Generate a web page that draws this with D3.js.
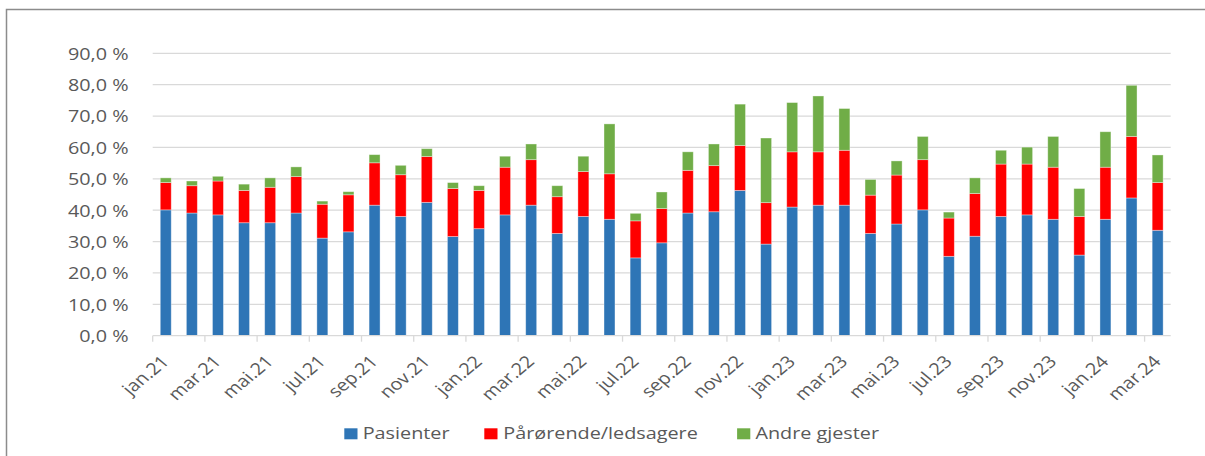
<!DOCTYPE html>
<html>
<head>
<meta charset="utf-8">
<script src="https://cdn.jsdelivr.net/npm/d3@7"></script>
<style>
  html, body { margin: 0; padding: 0; background: #fff; }
  svg { display: block; }
  text { font-family: "Open Sans", "Noto Sans", sans-serif; fill: #595959; }
</style>
</head>
<body>
<svg id="chart" width="1205" height="456"></svg>
<script>
// Months, Jan 2021 – Mar 2024
const months = [
  "jan.21","feb.21","mar.21","apr.21","mai.21","jun.21","jul.21","aug.21","sep.21","okt.21","nov.21","des.21",
  "jan.22","feb.22","mar.22","apr.22","mai.22","jun.22","jul.22","aug.22","sep.22","okt.22","nov.22","des.22",
  "jan.23","feb.23","mar.23","apr.23","mai.23","jun.23","jul.23","aug.23","sep.23","okt.23","nov.23","des.23",
  "jan.24","feb.24","mar.24"
];

// Share (%) per group
const pasienter = [
  40.1,39.1,38.5,36.0,36.0,39.1,31.1,33.1,41.6,38.0,42.5,31.6,
  34.1,38.5,41.6,32.6,38.0,37.1,24.8,29.6,39.1,39.5,46.3,29.2,
  41.0,41.6,41.6,32.6,35.6,40.1,25.3,31.7,38.0,38.5,37.1,25.7,
  37.1,43.9,33.6
];
const parorende = [
  8.7,8.7,10.8,10.3,11.3,11.6,10.8,11.8,13.5,13.3,14.6,15.3,
  12.2,15.2,14.5,11.7,14.3,14.5,11.8,10.9,13.6,14.7,14.3,13.2,
  17.6,17.0,17.5,12.2,15.6,16.0,12.2,13.6,16.7,16.2,16.6,12.3,
  16.6,19.6,15.2
];
const andre = [
  1.5,1.5,1.5,2.0,3.0,3.1,1.0,1.0,2.6,3.0,2.5,1.9,
  1.5,3.5,5.0,3.5,4.9,15.9,2.4,5.3,5.9,6.9,13.2,20.6,
  15.7,17.8,13.3,5.0,4.5,7.4,1.9,5.0,4.4,5.4,9.8,8.9,
  11.3,16.3,8.8
];

const seriesNames = ["Pasienter", "Pårørende/ledsagere", "Andre gjester"];
const seriesColors = ["#2E75B6", "#FF0000", "#70AD47"];
const yTicks = [0,10,20,30,40,50,60,70,80,90];

const rows = months.map((m, i) => ({
  month: m,
  "Pasienter": pasienter[i],
  "Pårørende/ledsagere": parorende[i],
  "Andre gjester": andre[i]
}));

// text is drawn slightly widened horizontally
const stretch = "scale(1.2,1)";
const fontSize = 16.5;

const svg = d3.select("#chart");

// outer frame (top and left edges)
svg.append("path")
  .attr("d", "M6.5,456 V9.5 H1205")
  .attr("fill", "none")
  .attr("stroke", "#8c8c8c")
  .attr("stroke-width", 1.5);

const plot = { left: 152.7, right: 1170.7, top: 53.3, bottom: 335.7 };

const x = d3.scaleBand()
  .domain(months)
  .range([plot.left, plot.right])
  .paddingInner(0.58)
  .paddingOuter(0.29);

const y = d3.scaleLinear()
  .domain([0, 90])
  .range([plot.bottom, plot.top]);

// horizontal gridlines
svg.append("g")
  .selectAll("line")
  .data(yTicks.filter(t => t > 0))
  .join("line")
  .attr("x1", plot.left)
  .attr("x2", plot.right)
  .attr("y1", d => y(d))
  .attr("y2", d => y(d))
  .attr("stroke", "#d9d9d9")
  .attr("stroke-width", 1.3);

// y-axis labels
const yAxis = d3.axisLeft(y)
  .tickValues(yTicks)
  .tickSize(0)
  .tickPadding(0)
  .tickFormat(d => d3.format(".1f")(d).replace(".", ",") + " %");

svg.append("g")
  .attr("transform", `translate(128.5,0)`)
  .call(yAxis)
  .call(g => g.select(".domain").remove())
  .call(g => g.selectAll("text")
    .attr("x", 0)
    .attr("dy", "0.36em")
    .attr("transform", stretch)
    .attr("font-size", fontSize)
    .attr("fill", "#595959")
    .style("font-family", "'Open Sans', sans-serif"));

// stacked bars
const layers = d3.stack().keys(seriesNames)(rows);

svg.append("g")
  .selectAll("g")
  .data(layers)
  .join("g")
  .attr("fill", (d, i) => seriesColors[i])
  .selectAll("rect")
  .data(d => d)
  .join("rect")
  .attr("x", d => x(d.data.month))
  .attr("width", x.bandwidth())
  .attr("y", d => y(d[1]))
  .attr("height", d => y(d[0]) - y(d[1]))
  .attr("stroke", "rgba(255,255,255,0.45)")
  .attr("stroke-width", 0.8);

// category axis line
const step = x.step();
svg.append("line")
  .attr("x1", plot.left).attr("x2", plot.right)
  .attr("y1", plot.bottom).attr("y2", plot.bottom)
  .attr("stroke", "#d9d9d9").attr("stroke-width", 1.3);

// tick marks at every second category boundary
const tickIdx = d3.range(0, months.length, 2);
svg.append("g")
  .selectAll("line")
  .data(tickIdx)
  .join("line")
  .attr("x1", i => x(months[i]) - step * 0.29)
  .attr("x2", i => x(months[i]) - step * 0.29)
  .attr("y1", plot.bottom)
  .attr("y2", plot.bottom + 6)
  .attr("stroke", "#d9d9d9").attr("stroke-width", 1.3);

// rotated month labels (every second month)
const xAxis = d3.axisBottom(x)
  .tickValues(months.filter((m, i) => i % 2 === 0))
  .tickSize(0)
  .tickPadding(0);

svg.append("g")
  .attr("transform", `translate(0,${plot.bottom})`)
  .call(xAxis)
  .call(g => g.select(".domain").remove())
  .call(g => g.selectAll("text")
    .attr("x", 0)
    .attr("y", 0)
    .attr("dy", 0)
    .attr("transform", `translate(4.4,27) ${stretch} rotate(-45)`)
    .attr("text-anchor", "end")
    .attr("font-size", fontSize)
    .attr("fill", "#595959")
    .style("font-family", "'Open Sans', sans-serif"));

// legend
const legendItems = [
  { name: seriesNames[0], color: seriesColors[0], x: 344.3, tx: 362.7 },
  { name: seriesNames[1], color: seriesColors[1], x: 484.3, tx: 503.3 },
  { name: seriesNames[2], color: seriesColors[2], x: 737.1, tx: 755.4 }
];
const lg = svg.append("g");
lg.selectAll("rect")
  .data(legendItems)
  .join("rect")
  .attr("x", d => d.x)
  .attr("y", 428.3)
  .attr("width", 13.2)
  .attr("height", 11)
  .attr("fill", d => d.color);
lg.selectAll("text")
  .data(legendItems)
  .join("text")
  .attr("transform", d => `translate(${d.tx},439) ${stretch}`)
  .attr("font-size", fontSize)
  .text(d => d.name);
</script>
</body>
</html>
